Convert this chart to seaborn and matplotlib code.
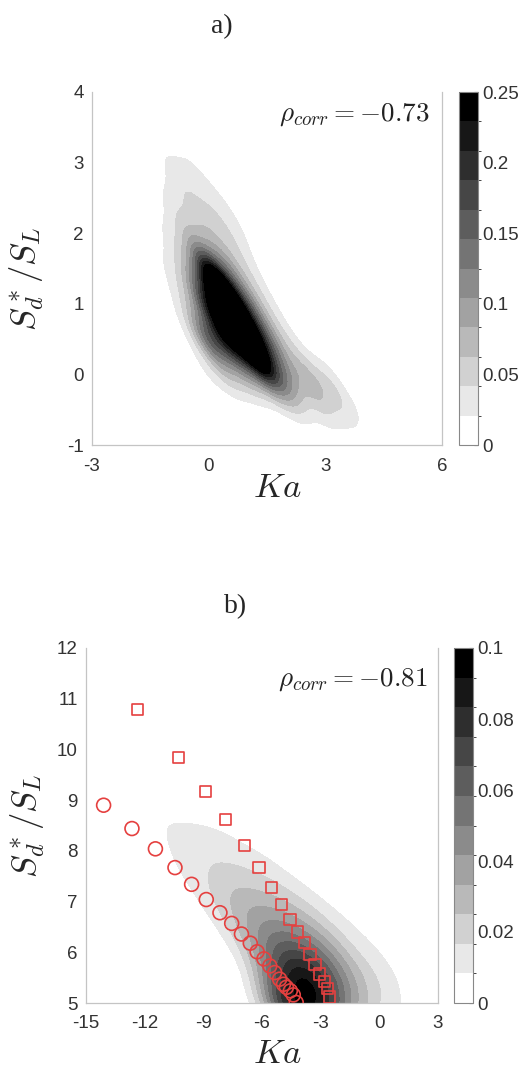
import numpy as np
import pandas as pd
import seaborn as sns
import matplotlib.pyplot as plt
from matplotlib.colors import ListedColormap, BoundaryNorm
from matplotlib.cm import ScalarMappable
from seaborn._statistics import KDE

# panel a) joint pdf of Ka and Sd*/SL at anchor points
ka_a = [-1.0, -0.5,
        -1.0, -0.5, 0.0, 0.5,
        -1.0, -0.5, 0.0, 0.5, 1.0,
        -1.0, -0.5, 0.0, 0.5, 1.0,
        0.25,
        -1.0, -0.5, 0.0, 0.5, 1.0, 1.5,
        0.75,
        -0.5, 0.0, 0.5, 1.0, 1.5, 2.0,
        1.25,
        0.0, 0.5, 1.0, 1.5, 2.0, 2.5, 3.0,
        2.0, 2.75, 3.25,
        2.5, 3.0, 3.5, 4.0]
sd_a = [3.0, 3.0,
        2.5, 2.5, 2.5, 2.5,
        2.0, 2.0, 2.0, 2.0, 2.0,
        1.5, 1.5, 1.5, 1.5, 1.5,
        1.25,
        1.0, 1.0, 1.0, 1.0, 1.0, 1.0,
        0.75,
        0.5, 0.5, 0.5, 0.5, 0.5, 0.5,
        0.25,
        0.0, 0.0, 0.0, 0.0, 0.0, 0.0, 0.0,
        -0.25, -0.25, -0.25,
        -0.55, -0.55, -0.55, -0.6]
pdf_a = [0.035, 0.032,
         0.035, 0.06, 0.05, 0.02,
         0.035, 0.08, 0.08, 0.06, 0.022,
         0.035, 0.08, 0.22, 0.14, 0.05,
         0.32,
         0.015, 0.055, 0.32, 0.35, 0.19, 0.045,
         0.36,
         0.015, 0.25, 0.36, 0.34, 0.2, 0.05,
         0.27,
         0.03, 0.08, 0.12, 0.16, 0.13, 0.08, 0.035,
         0.09, 0.06, 0.045,
         0.015, 0.035, 0.035, 0.02]

# panel b)
ka_b = [-11, -10, -9, -8,
        -11, -10, -9, -8, -7, -6,
        -10, -9, -8, -7, -6, -5, -4,
        -9, -8, -7, -6, -5, -4, -3, -2,
        -8, -7, -6, -5, -4, -3, -2, -1,
        -7, -6, -5, -4, -3, -2, -1, 0,
        -6, -5, -4, -3, -2, -1, 0, 1,
        -6, -5, -4, -3, -2, -1, 0, 1,
        -5, -4, -3, -2, -1, 0]
sd_b = [8.5] * 4 + [8.0] * 6 + [7.5] * 7 + [7.0] * 8 + [6.5] * 8 + [6.0] * 8 \
    + [5.5] * 8 + [5.0] * 8 + [4.5] * 6
pdf_b = [0.013, 0.013, 0.011, 0.008,
         0.009, 0.013, 0.015, 0.015, 0.013, 0.009,
         0.011, 0.017, 0.024, 0.022, 0.018, 0.013, 0.006,
         0.012, 0.026, 0.035, 0.035, 0.03, 0.02, 0.01, 0.005,
         0.014, 0.033, 0.05, 0.052, 0.045, 0.03, 0.014, 0.008,
         0.017, 0.048, 0.075, 0.08, 0.062, 0.037, 0.016, 0.011,
         0.033, 0.09, 0.12, 0.105, 0.062, 0.033, 0.019, 0.01,
         0.025, 0.11, 0.13, 0.12, 0.065, 0.035, 0.02, 0.012,
         0.06, 0.09, 0.08, 0.045, 0.02, 0.01]

# red markers in panel b)
sq_ka = [-12.35, -10.25, -8.9, -7.85, -6.9, -6.15, -5.5, -5.0, -4.57, -4.18,
         -3.84, -3.55, -3.29, -3.07, -2.82, -2.66, -2.56]
sq_sd = [10.78, 9.84, 9.17, 8.62, 8.1, 7.67, 7.28, 6.95, 6.65, 6.4,
         6.19, 5.96, 5.76, 5.57, 5.42, 5.29, 5.12]
ci_ka = [-14.1, -12.65, -11.45, -10.45, -9.6, -8.85, -8.15, -7.55, -7.05, -6.6,
         -6.25, -5.9, -5.6, -5.35, -5.1, -4.9, -4.75, -4.55, -4.4, -4.25]
ci_sd = [8.9, 8.44, 8.04, 7.67, 7.34, 7.04, 6.78, 6.57, 6.36, 6.18,
         6.01, 5.87, 5.73, 5.6, 5.47, 5.37, 5.31, 5.24, 5.16, 5.01]

df_a = pd.DataFrame({'ka': ka_a, 'sd': sd_a, 'w': pdf_a})
df_b = pd.DataFrame({'ka': ka_b, 'sd': sd_b, 'w': pdf_b})

sns.set_style("white")
plt.rcParams['font.family'] = ['Liberation Sans', 'DejaVu Sans']
plt.rcParams['mathtext.fontset'] = 'cm'

grays = [str(1 - i / 11) for i in range(12)]
spine_col = '#c4c4c4'
red = '#e5403f'

fig = plt.figure(figsize=(5.28, 10.68), dpi=100)
ax_a = fig.add_axes([92/528, 1-445/1068, 350/528, 353/1068])
cax_a = fig.add_axes([459/528, 1-445/1068, 19/528, 353/1068])
ax_b = fig.add_axes([86/528, 1-1003/1068, 352/528, 355/1068])
cax_b = fig.add_axes([454/528, 1-1003/1068, 19/528, 355/1068])


def pdf_contours(ax, df, bw, vmax):
    # seaborn's weighted gaussian KDE, drawn with fixed density levels
    kde = KDE(bw_adjust=bw)
    dens, (gx, gy) = kde(df['ka'].to_numpy(float), df['sd'].to_numpy(float),
                         weights=df['w'].to_numpy(float))
    lev = list(np.linspace(0, vmax, 13)[1:12]) + [max(dens.max(), vmax) * 1.01]
    ax.contourf(gx, gy, dens, levels=lev, colors=grays[1:])


def style_axes(ax, xt, yt):
    ax.set_xticks(xt)
    ax.set_yticks(yt)
    ax.set_xticklabels([str(v) for v in xt])
    ax.set_yticklabels([str(v) for v in yt])
    ax.tick_params(length=0, labelsize=13.5, colors='#333333')
    ax.tick_params(axis='x', pad=9)
    ax.tick_params(axis='y', pad=6)
    ax.spines['top'].set_visible(False)
    for s in ['left', 'bottom', 'right']:
        ax.spines[s].set_color(spine_col)
        ax.spines[s].set_linewidth(0.9)
    ax.set_xlim(xt[0], xt[-1])
    ax.set_ylim(yt[0], yt[-1])


def pdf_colorbar(cax, vmax, ticks, labels):
    norm = BoundaryNorm(np.linspace(0, vmax, 13), 12)
    sm = ScalarMappable(norm=norm, cmap=ListedColormap(grays))
    cb = fig.colorbar(sm, cax=cax, ticks=ticks)
    cb.ax.set_yticklabels(labels)
    cb.outline.set_edgecolor('#888888')
    cb.outline.set_linewidth(0.8)
    cb.ax.tick_params(length=3, direction='in', colors='#333333', labelsize=13.5, pad=3)


# ---- panel a
pdf_contours(ax_a, df_a, 0.68, 0.25)
style_axes(ax_a, [-3, 0, 3, 6], [-1, 0, 1, 2, 3, 4])
ax_a.set_xlabel(r'$Ka$', fontsize=25)
ax_a.set_ylabel(r'$S_d^*/S_L$', fontsize=25)
ax_a.xaxis.set_label_coords(0.53, -0.075)
ax_a.yaxis.set_label_coords(-0.13, 0.47)
ax_a.text(0.966, 0.935, r'$\rho_{corr} = {-}0.73$', transform=ax_a.transAxes,
          ha='right', va='center', fontsize=19.5, color='#222222')
pdf_colorbar(cax_a, 0.25, [0, 0.05, 0.1, 0.15, 0.2, 0.25],
             ['0', '0.05', '0.1', '0.15', '0.2', '0.25'])

# ---- panel b
pdf_contours(ax_b, df_b, 0.65, 0.1)
sns.scatterplot(x=sq_ka, y=sq_sd, marker='s', s=65, facecolors='none',
                edgecolor=red, linewidth=1.2, ax=ax_b, zorder=5)
sns.scatterplot(x=ci_ka, y=ci_sd, marker='o', s=100, facecolors='none',
                edgecolor=red, linewidth=1.2, ax=ax_b, zorder=5)
style_axes(ax_b, [-15, -12, -9, -6, -3, 0, 3], [5, 6, 7, 8, 9, 10, 11, 12])
ax_b.set_xlabel(r'$Ka$', fontsize=25)
ax_b.set_ylabel(r'$S_d^*/S_L$', fontsize=25)
ax_b.xaxis.set_label_coords(0.543, -0.095)
ax_b.yaxis.set_label_coords(-0.11, 0.5)
ax_b.text(0.972, 0.91, r'$\rho_{corr} = {-}0.81$', transform=ax_b.transAxes,
          ha='right', va='center', fontsize=19.5, color='#222222')
pdf_colorbar(cax_b, 0.1, [0, 0.02, 0.04, 0.06, 0.08, 0.1],
             ['0', '0.02', '0.04', '0.06', '0.08', '0.1'])

fig.text(222/528, 1-27/1068, 'a)', ha='center', va='center', fontsize=20,
         family='Liberation Serif')
fig.text(236/528, 1-607/1068, 'b)', ha='center', va='center', fontsize=20,
         family='Liberation Serif')

fig.savefig('out.png', dpi=100)
